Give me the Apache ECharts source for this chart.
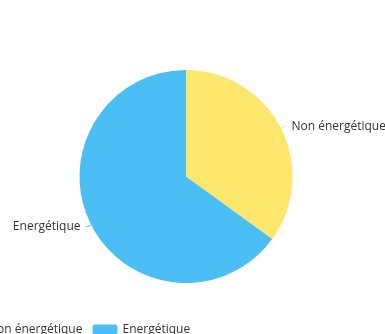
<!DOCTYPE html>
<html><head><meta charset="utf-8">
<script src="https://cdn.jsdelivr.net/npm/echarts@6/dist/echarts.min.js"></script>
<style>html,body{margin:0;padding:0;background:#fff}#c{width:385px;height:334px}</style>
</head><body><div id="c"></div>
<script>
const categories = ['Non énergétique', 'Energétique'];
const values = [35, 65];
const colors = ['#FCE66B', '#4BBEF6'];

const chart = echarts.init(document.getElementById('c'), null, {renderer: 'canvas'});
chart.setOption({
  animation: false,
  color: colors,
  textStyle: {fontFamily: 'Open Sans'},
  legend: {
    left: -47, top: 318.5,
    itemWidth: 25, itemHeight: 10, itemGap: 10,
    textStyle: {fontSize: 12, color: '#333', fontFamily: 'Open Sans'},
    data: categories
  },
  series: [{
    type: 'pie',
    center: [186, 176.5],
    radius: 106.5,
    startAngle: 90,
    label: {fontSize: 12, color: '#333', fontFamily: 'Open Sans', overflow: 'none'},
    labelLine: {length: 4, length2: 2},
    data: categories.map((n, i) => ({name: n, value: values[i]}))
  }]
});
</script></body></html>
